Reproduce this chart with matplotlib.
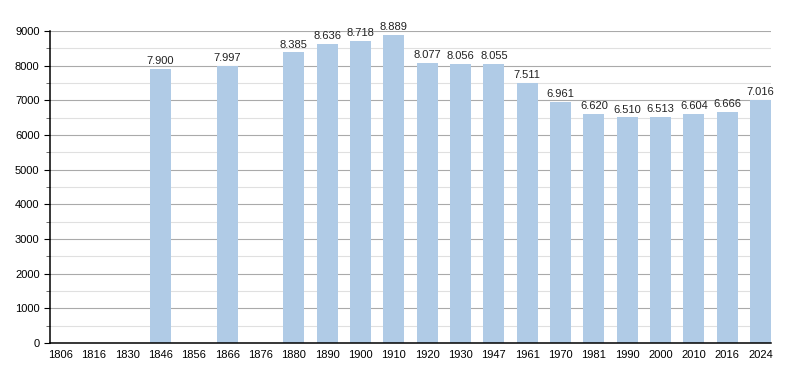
import numpy as np
import matplotlib.pyplot as plt

plt.rcParams['font.family'] = ['Liberation Sans', 'DejaVu Sans']

# census years and population (missing years have no bar)
years = ['1806', '1816', '1830', '1846', '1856', '1866', '1876', '1880', '1890', '1900', '1910',
         '1920', '1930', '1947', '1961', '1970', '1981', '1990', '2000', '2010', '2016', '2024']
population = [np.nan, np.nan, np.nan, 7900, np.nan, 7997, np.nan, 8385, 8636, 8718, 8889,
              8077, 8056, 8055, 7511, 6961, 6620, 6510, 6513, 6604, 6666, 7016]

fig = plt.figure(figsize=(8, 3.73), dpi=100)
ax = fig.add_axes([0.0625, 0.0804, 0.9013, 0.8365])

x = np.arange(len(years))
vals = np.array(population, dtype=float)
ax.bar(x, np.nan_to_num(vals), width=0.63, color='#b0cbe6', zorder=3)

# value labels with dot as thousands separator
for xi, v in zip(x, vals):
    if not np.isnan(v):
        ax.text(xi, v + 80, f'{int(v):,}'.replace(',', '.'), ha='center', va='bottom',
                fontsize=8, color='#222222', zorder=4)

ax.set_xlim(-0.315, len(years) - 1 + 0.315)
ax.set_ylim(0, 9000)
ax.set_xticks(x)
ax.set_xticklabels(years, fontsize=8)
ax.set_yticks(np.arange(0, 9001, 1000))
ax.set_yticks(np.arange(500, 9000, 1000), minor=True)
ax.tick_params(axis='y', labelsize=8, length=4, color='black')
ax.tick_params(axis='y', which='minor', length=3, color='#555555')
ax.tick_params(axis='x', length=0, pad=5)

ax.grid(axis='y', which='major', color='#aaaaaa', linewidth=0.8, zorder=0)
ax.grid(axis='y', which='minor', color='#e0e0e0', linewidth=0.8, zorder=0)

for s in ['top', 'right']:
    ax.spines[s].set_visible(False)
ax.spines['left'].set_linewidth(1.1)
ax.spines['bottom'].set_linewidth(1.1)
ax.spines['left'].set_zorder(5)
ax.spines['bottom'].set_zorder(5)

fig.savefig('out.png', dpi=100)
